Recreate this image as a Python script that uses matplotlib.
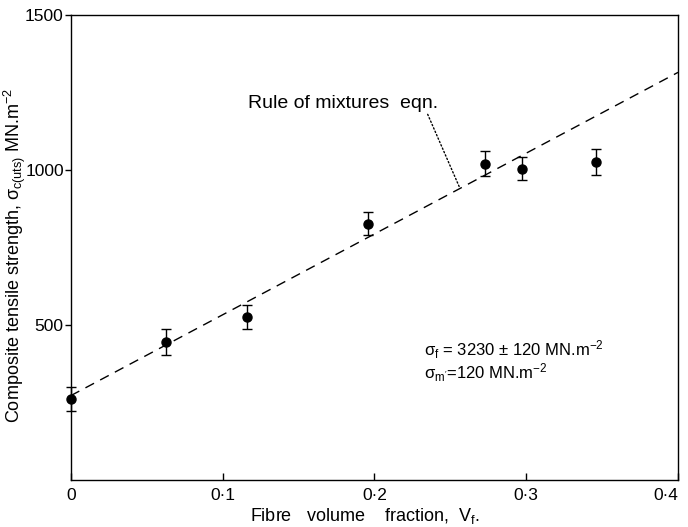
import matplotlib.pyplot as plt

plt.rcParams['font.family'] = ['Liberation Sans', 'DejaVu Sans']
plt.rcParams['mathtext.fontset'] = 'custom'
plt.rcParams['mathtext.rm'] = 'Liberation Sans'
plt.rcParams['mathtext.it'] = 'Liberation Sans'

# Measured composite strength vs fibre volume fraction
vf = [0.0, 0.063, 0.116, 0.196, 0.273, 0.297, 0.346]
strength = [261, 444, 525, 827, 1021, 1004, 1025]
err = [40, 42, 38, 38, 40, 37, 42]

# Rule of mixtures line end points
line_vf = [0.0, 0.4]
line_s = [272, 1315]

fig = plt.figure(figsize=(6.88, 5.27), dpi=100)
ax = fig.add_axes([0.1028, 0.0892, 0.8827, 0.8823])

ax.plot(line_vf, line_s, color='black', lw=1.0, dashes=(7, 5))
ax.errorbar(vf, strength, yerr=err, fmt='o', color='black', ms=6.5,
            elinewidth=1.0, capsize=3.5, capthick=1.0, clip_on=False, zorder=3)

ax.set_xlim(0, 0.4)
ax.set_ylim(0, 1500)
ax.set_xticks([0, 0.1, 0.2, 0.3, 0.4])
ax.set_xticklabels(['0', '0·1', '0·2', '0·3', '0·4'])
ax.get_xticklabels()[-1].set_horizontalalignment('right')
ax.set_yticks([500, 1000, 1500])
ax.set_yticklabels(['500', '1000', '1500'])
ax.tick_params(axis='x', direction='in', length=5, width=1, labelsize=12.5, pad=6)
ax.tick_params(axis='y', direction='out', length=4, width=1, labelsize=12.5, pad=1)
for sp in ax.spines.values():
    sp.set_linewidth(1.0)

ax.set_xlabel('Fibre   volume    fraction,  V$_{\\mathrm{f}}$.', fontsize=13)
ax.xaxis.set_label_coords(0.485, -0.056)
ax.set_ylabel(r'Composite tensile strength, $\sigma_{\mathrm{c(uts)}}$ MN.m$^{-2}$',
              fontsize=13)
ax.yaxis.set_label_coords(-0.07, 0.482)

# annotation for the line
ax.annotate('Rule of mixtures  eqn.', xy=(0.256, 945), xytext=(0.1166, 1216),
            fontsize=14, va='center',
            arrowprops=dict(arrowstyle='-', linestyle=':', lw=1.0, color='black',
                            shrinkA=0, shrinkB=0, relpos=(0.94, 0.0)))

ax.text(0.233, 420, r'$\sigma_{\mathrm{f}}$ = 3230 ± 120 MN.m$^{-2}$', fontsize=12, va='center')
ax.text(0.233, 345, r"$\sigma_{\mathrm{m'}}$=120 MN.m$^{-2}$", fontsize=12, va='center')

fig.savefig('out.png', dpi=100)
